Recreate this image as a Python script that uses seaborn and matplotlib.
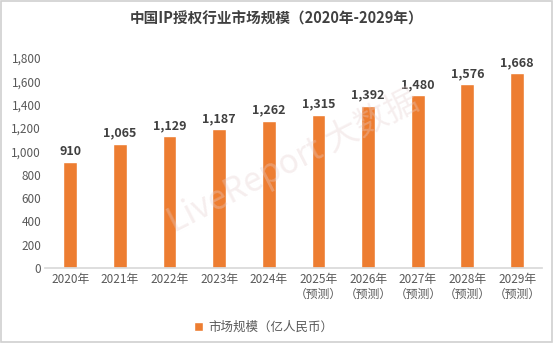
import matplotlib
matplotlib.use("Agg")
import matplotlib.pyplot as plt
import seaborn as sns
import pandas as pd
from matplotlib.ticker import FuncFormatter
from matplotlib.patches import Rectangle

categories = ["2020年", "2021年", "2022年", "2023年", "2024年",
              "2025年\n（预测）", "2026年\n（预测）", "2027年\n（预测）",
              "2028年\n（预测）", "2029年\n（预测）"]
values = [910, 1065, 1129, 1187, 1262, 1315, 1392, 1480, 1576, 1668]
series_name = "市场规模（亿人民币）"
title = "中国IP授权行业市场规模（2020年-2029年）"

sns.set_theme(style="white")
plt.rcParams['font.family'] = ['Noto Sans CJK SC', 'DejaVu Sans']

df = pd.DataFrame({"year": categories, "value": values})

fig = plt.figure(figsize=(5.53, 3.43), dpi=100)
ax = fig.add_axes([0.082, 0.219, 0.898, 0.612])
orange = "#ED7D31"
sns.barplot(data=df, x="year", y="value", color=orange, width=0.28,
            saturation=1, ax=ax, label=series_name)

ax.set_ylim(0, 1800)
ax.set_yticks(range(0, 1801, 200))
ax.yaxis.set_major_formatter(FuncFormatter(lambda v, p: f"{int(v):,}"))
ax.set_xlabel("")
ax.set_ylabel("")
for s in ["top", "right", "left"]:
    ax.spines[s].set_visible(False)
ax.spines["bottom"].set_color("#D9D9D9")
ax.tick_params(axis="both", colors="#595959", labelsize=8.5, length=0, pad=3)
ax.tick_params(axis="x", pad=4)
for lbl in ax.get_xticklabels():
    lbl.set_linespacing(1.1)

for c in ax.containers:
    ax.bar_label(c, labels=[f"{v:,}" for v in values], padding=3,
                 fontsize=9, fontweight="bold", color="#404040")

fig.text(0.5, 0.945, title, ha="center", va="center", fontsize=10.5,
         fontweight="bold", color="#404040")

leg = ax.legend(loc="center", bbox_to_anchor=(0.44, -0.285), frameon=False,
                fontsize=9, handlelength=0.7, handleheight=0.7,
                handletextpad=0.4)
for t in leg.get_texts():
    t.set_color("#595959")

fig.text(0.53, 0.53, "LiveReport 大数据", ha="center", va="center",
         fontsize=24, rotation=27, color="#E6D0D0", alpha=0.35, zorder=5,
         fontweight="light")

fig.patches.append(Rectangle((0.002, 0.003), 0.996, 0.994, transform=fig.transFigure,
                             fill=False, edgecolor="#D0D0D0", linewidth=1.2))

fig.savefig("out.png", dpi=100)
